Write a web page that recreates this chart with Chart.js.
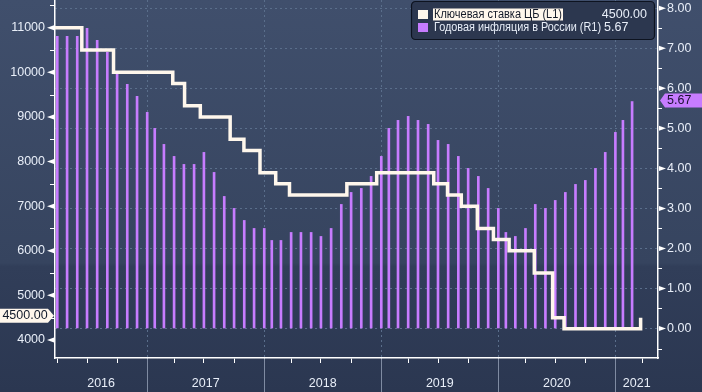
<!DOCTYPE html>
<html>
<head>
<meta charset="utf-8">
<script src="https://cdn.jsdelivr.net/npm/chart.js@4/dist/chart.umd.min.js"></script>
<style>
  html, body { margin: 0; padding: 0; background: #2e3a55; overflow: hidden; }
  canvas { display: block; }
</style>
</head>
<body>
<canvas id="chart" width="702" height="392"></canvas>
<script>
// Годовая инфляция в России (R1), % г/г, values at month end, starting Mar 2016
var inflationStart = [2016, 3];
var inflationValues = [
  7.3, 7.3, 7.3, 7.5, 7.2, 6.9, 6.4, 6.1, 5.8, 5.4,           // 2016 (Mar-Dec)
  5.0, 4.6, 4.3, 4.1, 4.1, 4.4, 3.9, 3.3, 3.0, 2.7, 2.5, 2.5, // 2017
  2.2, 2.2, 2.4, 2.4, 2.4, 2.3, 2.5, 3.1, 3.4, 3.5, 3.8, 4.3, // 2018
  5.0, 5.2, 5.3, 5.2, 5.1, 4.7, 4.6, 4.3, 4.0, 3.8, 3.5, 3.0, // 2019
  2.4, 2.3, 2.5, 3.1, 3.0, 3.2, 3.4, 3.6, 3.7, 4.0, 4.4, 4.9, // 2020
  5.2, 5.67                                                   // 2021 (Jan-Feb)
];

// Ключевая ставка ЦБ (L1), x100 - dates of each change
var keyRateDates = [
  '2016-03-24', '2016-06-14', '2016-09-19', '2017-03-27', '2017-05-02', '2017-06-19',
  '2017-09-18', '2017-10-30', '2017-12-18', '2018-02-12', '2018-03-26', '2018-09-17',
  '2018-12-17', '2019-06-17', '2019-07-29', '2019-09-09', '2019-10-28', '2019-12-16',
  '2020-02-10', '2020-04-27', '2020-06-22', '2020-07-27', '2021-03-26'
];
var keyRateValues = [
  11000, 10500, 10000, 9750, 9250, 9000,
  8500, 8250, 7750, 7500, 7250, 7500,
  7750, 7500, 7250, 7000, 6500, 6250,
  6000, 5500, 4500, 4250, 4500
];

// Axis ticks and labels
var leftTicks = [4000, 4500, 5000, 5500, 6000, 6500, 7000, 7500, 8000, 8500, 9000, 9500, 10000, 10500, 11000, 11500];
var rightTicks = [-0.5, 0, 0.5, 1, 1.5, 2, 2.5, 3, 3.5, 4, 4.5, 5, 5.5, 6, 6.5, 7, 7.5, 8];
var yearLabels = ['2016', '2017', '2018', '2019', '2020', '2021'];
var xStart = '2016-03-24';
var xEnd = '2021-05-18';

var seriesNames = ['Ключевая ставка ЦБ (L1)', 'Годовая инфляция в России (R1)'];
var lineColor = '#fff7ec';
var barColor = '#c77cff';
var textColor = '#e8eef8';
var font = '"Liberation Sans", Arial, sans-serif';

// Position on the time axis in years; the axis skips the New Year holidays (1-8 Jan)
function datePos(s) {
  var p = s.split('-').map(Number);
  var y = p[0];
  var doy = (Date.UTC(y, p[1] - 1, p[2]) - Date.UTC(y, 0, 1)) / 864e5 + 1;
  var diy = (Date.UTC(y + 1, 0, 1) - Date.UTC(y, 0, 1)) / 864e5;
  return y + Math.max(0, doy - 8) / (diy - 8);
}

function monthEnd(y, m) {
  var d = new Date(Date.UTC(y, m, 0)).getUTCDate();
  return y + '-' + (m < 10 ? '0' : '') + m + '-' + d;
}

var inflationPoints = inflationValues.map(function(v, i) {
  var n = inflationStart[1] - 1 + i;
  var y = inflationStart[0] + Math.floor(n / 12);
  return { x: datePos(monthEnd(y, n % 12 + 1)), y: v };
});

var keyRatePoints = keyRateDates.map(function(d, i) {
  return { x: datePos(d), y: keyRateValues[i] };
});

var xMin = datePos(xStart);
var xMax = datePos(xEnd);

// quarter ticks on the time axis
var quarterTicks = [];
yearLabels.forEach(function(label) {
  var y = Number(label);
  [y + '-03-31', y + '-06-30', y + '-09-30'].forEach(function(d) { quarterTicks.push(datePos(d)); });
  quarterTicks.push(y + 1);
});
quarterTicks = quarterTicks.filter(function(v) { return v >= xMin && v <= xMax; });

function isYear(v) {
  return Math.abs(v - Math.round(v)) < 1e-9;
}

function noPadding(s) {
  s.paddingTop = 0; s.paddingBottom = 0; s.paddingLeft = 0; s.paddingRight = 0;
}

var decorations = {
  id: 'decorations',
  beforeDraw: function(chart) {
    var ctx = chart.ctx;
    var g = ctx.createLinearGradient(0, 0, 0, chart.height);
    g.addColorStop(0, '#404f6c');
    g.addColorStop(0.67, '#36445f');
    g.addColorStop(0.68, '#313e59');
    g.addColorStop(1, '#2b3751');
    ctx.save();
    ctx.fillStyle = g;
    ctx.fillRect(0, 0, chart.width, chart.height);
    ctx.restore();
  },
  afterDraw: function(chart) {
    var ctx = chart.ctx;
    var area = chart.chartArea;
    var x = chart.scales.x, yL = chart.scales.yL, yR = chart.scales.yR;
    ctx.save();

    // tick arrows (major) and short ticks (minor)
    ctx.fillStyle = '#ffffff';
    ctx.strokeStyle = '#ffffff';
    ctx.lineWidth = 1;
    leftTicks.forEach(function(v) {
      var y = yL.getPixelForValue(v);
      if (v % 1000 === 0) {
        ctx.beginPath();
        ctx.moveTo(area.left - 1, y - 2.5);
        ctx.lineTo(area.left - 1, y + 2.5);
        ctx.lineTo(area.left - 8, y);
        ctx.fill();
      } else {
        ctx.beginPath();
        ctx.moveTo(area.left - 5, Math.round(y) + 0.5);
        ctx.lineTo(area.left, Math.round(y) + 0.5);
        ctx.stroke();
      }
    });
    rightTicks.forEach(function(v) {
      var y = yR.getPixelForValue(v);
      if (Number.isInteger(v)) {
        ctx.beginPath();
        ctx.moveTo(area.right + 1, y - 2.5);
        ctx.lineTo(area.right + 1, y + 2.5);
        ctx.lineTo(area.right + 8, y);
        ctx.fill();
      } else {
        ctx.beginPath();
        ctx.moveTo(area.right, Math.round(y) + 0.5);
        ctx.lineTo(area.right + 4, Math.round(y) + 0.5);
        ctx.stroke();
      }
    });

    // year separators and labels under the axis
    ctx.strokeStyle = '#7f8ba2';
    ctx.font = '12.5px ' + font;
    ctx.fillStyle = textColor;
    ctx.textAlign = 'center';
    ctx.textBaseline = 'middle';
    yearLabels.forEach(function(label) {
      var yr = Number(label);
      var a = x.getPixelForValue(yr);
      var b = x.getPixelForValue(yr + 1);
      if (a > area.left) {
        ctx.beginPath();
        ctx.moveTo(Math.round(a) + 0.5, area.bottom + 1);
        ctx.lineTo(Math.round(a) + 0.5, chart.height);
        ctx.stroke();
      }
      var c = (Math.max(a, area.left) + Math.min(b, area.right)) / 2;
      ctx.fillText(label, c, 384);
    });

    // legend box
    var rate = keyRateValues[keyRateValues.length - 1].toFixed(2);
    var infl = inflationValues[inflationValues.length - 1].toFixed(2);
    ctx.beginPath();
    ctx.roundRect(411.5, 1.5, 243, 38, 4);
    ctx.fillStyle = '#2c374f';
    ctx.fill();
    ctx.strokeStyle = '#0d1320';
    ctx.lineWidth = 1.2;
    ctx.stroke();

    ctx.font = '12.5px ' + font;
    ctx.textAlign = 'left';
    ctx.fillStyle = lineColor;
    ctx.fillRect(418, 10, 10, 9);
    var w = Math.min(ctx.measureText(seriesNames[0]).width, 128);
    ctx.fillRect(433, 8.5, w + 2, 12);
    ctx.fillStyle = '#141a28';
    ctx.fillText(seriesNames[0], 434, 15, 128);
    ctx.fillStyle = textColor;
    ctx.textAlign = 'right';
    ctx.fillText(rate, 647, 15);

    ctx.fillStyle = barColor;
    ctx.fillRect(418, 23, 10, 9);
    ctx.fillStyle = textColor;
    ctx.textAlign = 'left';
    ctx.fillText(seriesNames[1], 434, 28, 167);
    ctx.fillText(infl, 604, 28);

    // last value tags
    ctx.font = '12.5px ' + font;
    var ly = yL.getPixelForValue(keyRateValues[keyRateValues.length - 1]) - 2;
    ctx.beginPath();
    ctx.moveTo(0, ly - 7);
    ctx.lineTo(48, ly - 7);
    ctx.lineTo(54, ly);
    ctx.lineTo(48, ly + 7);
    ctx.lineTo(0, ly + 7);
    ctx.closePath();
    ctx.fillStyle = lineColor;
    ctx.fill();
    ctx.fillStyle = '#111a2b';
    ctx.textAlign = 'center';
    ctx.fillText(rate, 25, ly);

    var ry = yR.getPixelForValue(inflationValues[inflationValues.length - 1]) - 1;
    ctx.beginPath();
    ctx.moveTo(660, ry);
    ctx.lineTo(665, ry - 7);
    ctx.lineTo(702, ry - 7);
    ctx.lineTo(702, ry + 7);
    ctx.lineTo(665, ry + 7);
    ctx.closePath();
    ctx.fillStyle = barColor;
    ctx.fill();
    ctx.fillStyle = '#1a1030';
    ctx.textAlign = 'left';
    ctx.fillText(infl, 667, ry);

    ctx.restore();
  }
};

var ctx = document.getElementById('chart').getContext('2d');

var chart = new Chart(ctx, {
  type: 'bar',
  data: {
    datasets: [
      {
        type: 'line',
        label: seriesNames[0],
        data: keyRatePoints,
        yAxisID: 'yL',
        stepped: 'before',
        borderColor: lineColor,
        borderWidth: 3.5,
        borderJoinStyle: 'miter',
        pointRadius: 0,
        order: 0
      },
      {
        type: 'bar',
        label: seriesNames[1],
        data: inflationPoints,
        yAxisID: 'yR',
        backgroundColor: barColor,
        barThickness: 2,
        order: 1
      }
    ]
  },
  options: {
    responsive: false,
    animation: false,
    layout: { padding: 0, autoPadding: false },
    plugins: {
      legend: { display: false },
      tooltip: { enabled: false }
    },
    scales: {
      x: {
        type: 'linear',
        position: 'bottom',
        offset: false,
        min: xMin,
        max: xMax,
        afterBuildTicks: function(s) {
          s.ticks = quarterTicks.map(function(v) { return { value: v }; });
        },
        afterFit: function(s) { s.height = 34; noPadding(s); },
        ticks: { display: false },
        grid: {
          offset: false,
          color: function(c) { return c.tick && isYear(c.tick.value) ? '#5a6e8b' : 'transparent'; },
          tickColor: '#ffffff',
          tickLength: 5,
          lineWidth: 1
        },
        border: { display: true, color: '#ffffff', width: 1.5, dash: [2, 3] }
      },
      yL: {
        position: 'left',
        min: 3596,
        max: 11621,
        afterBuildTicks: function(s) {
          s.ticks = leftTicks.map(function(v) { return { value: v }; });
        },
        afterFit: function(s) { s.width = 55; noPadding(s); },
        ticks: {
          callback: function(v) { return v % 1000 === 0 ? String(v) : ''; },
          color: textColor,
          font: { family: font, size: 12.5 },
          padding: 10
        },
        grid: { display: false, drawTicks: false },
        border: { display: true, color: '#ffffff', width: 1.5 }
      },
      yR: {
        position: 'right',
        min: -0.737,
        max: 8.207,
        afterBuildTicks: function(s) {
          s.ticks = rightTicks.map(function(v) { return { value: v }; });
        },
        afterFit: function(s) { s.width = 44; noPadding(s); },
        ticks: {
          callback: function(v) { return Number.isInteger(v) ? v.toFixed(2) : ''; },
          color: textColor,
          font: { family: font, size: 12.5 },
          padding: 9
        },
        grid: {
          drawTicks: false,
          color: function(c) { return c.tick && Number.isInteger(c.tick.value) ? '#5a6e8b' : 'transparent'; },
          lineWidth: 1
        },
        border: { display: true, color: '#ffffff', width: 1.5, dash: [2, 3] }
      }
    }
  },
  plugins: [decorations]
});
</script>
</body>
</html>
